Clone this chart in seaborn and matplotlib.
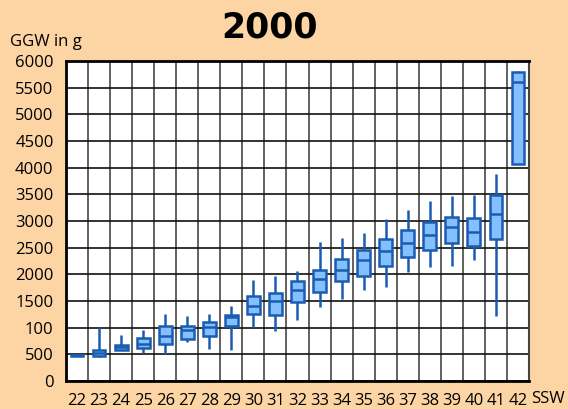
import numpy as np
import pandas as pd
import seaborn as sns
import matplotlib.pyplot as plt

# gestational week (SSW) and birth weight box stats (GGW in g)
weeks = [22, 23, 24, 25, 26, 27, 28, 29, 30, 31, 32,
         33, 34, 35, 36, 37, 38, 39, 40, 41, 42]
w_min = [470, 445, 580, 530, 505, 735, 595, 580, 1005, 935, 1145,
         1390, 1530, 1700, 1755, 2040, 2130, 2150, 2270, 1225, 4065]
w_q1 = [475, 475, 587, 620, 700, 795, 840, 1030, 1250, 1245, 1480,
        1670, 1870, 1975, 2155, 2330, 2460, 2580, 2540, 2655, 4065]
w_med = [480, 530, 643, 695, 850, 950, 1005, 1200, 1410, 1505, 1715,
         1905, 2080, 2265, 2445, 2590, 2745, 2880, 2800, 3125, 5610]
w_q3 = [485, 580, 680, 810, 1035, 1025, 1100, 1230, 1590, 1650, 1875,
        2080, 2290, 2460, 2655, 2835, 2975, 3080, 3055, 3480, 5795]
w_max = [490, 1005, 860, 950, 1250, 1215, 1250, 1410, 1895, 1965, 2055,
         2610, 2675, 2780, 3030, 3205, 3380, 3470, 3480, 3890, 5820]

ytick_vals = list(range(0, 6001, 500))
ytick_labels = ["0", "500", "100", "1500", "2000", "2500", "3000",
                "3500", "4000", "4500", "5000", "5500", "6000"]

# five points per week give exactly these quartiles with whis=(0, 100)
rows = []
for i, wk in enumerate(weeks):
    for v in (w_min[i], w_q1[i], w_med[i], w_q3[i], w_max[i]):
        rows.append({"SSW": str(wk), "GGW": v})
df = pd.DataFrame(rows)

bg = "#FDD4A4"
face = "#84BFFF"
edge = "#1A5CB0"

sns.set_style("white")
plt.rcParams["font.family"] = ["Open Sans", "DejaVu Sans"]
plt.rcParams["text.color"] = "black"
plt.rcParams["xtick.color"] = "black"
plt.rcParams["ytick.color"] = "black"

fig = plt.figure(figsize=(5.68, 4.09), dpi=100, facecolor=bg)
ax = fig.add_axes([0.1162, 0.0685, 0.8151, 0.7824])
ax.set_facecolor("white")

sns.boxplot(data=df, x="SSW", y="GGW", order=[str(w) for w in weeks],
            whis=(0, 100), width=0.58, showcaps=False, ax=ax,
            boxprops=dict(facecolor=face, edgecolor=edge, linewidth=1.8),
            whiskerprops=dict(color=edge, linewidth=1.8),
            medianprops=dict(color=edge, linewidth=1.8),
            capprops=dict(color=edge), zorder=3)

ax.set_ylim(0, 6000)
ax.set_xlim(-0.5, len(weeks) - 0.5)
ax.set_yticks(ytick_vals)
ax.set_yticklabels(ytick_labels)
ax.set_xticks(np.arange(len(weeks)) + 0.5, minor=True)
ax.tick_params(axis="both", which="both", length=0, labelsize=12,
               labelcolor="black")
ax.tick_params(axis="y", pad=9)
ax.tick_params(axis="x", pad=9)
ax.grid(axis="y", which="major", color="#111111", linewidth=1.2, zorder=1)
ax.grid(axis="x", which="minor", color="#555555", linewidth=1.3, zorder=1)
ax.grid(axis="x", which="major", visible=False)
ax.set_axisbelow(True)
ax.set_xlabel("")
ax.set_ylabel("")
for side in ["top", "left", "bottom"]:
    ax.spines[side].set_color("black")
    ax.spines[side].set_linewidth(2)
ax.spines["right"].set_color("#444444")
ax.spines["right"].set_linewidth(1.5)

fig.text(0.475, 0.932, "2000", ha="center", va="center", color="black",
         fontsize=25, fontweight="bold", family="DejaVu Sans")
fig.text(0.018, 0.897, "GGW in g", ha="left", va="center", fontsize=12)
fig.text(0.965, 0.025, "SSW", ha="center", va="center", fontsize=12)

fig.savefig("out.png", dpi=100, facecolor=bg)
